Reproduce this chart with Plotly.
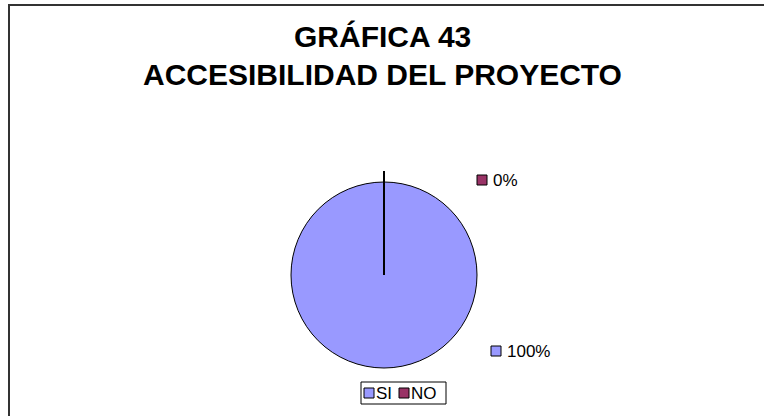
import plotly.graph_objects as go

W, H = 764, 416

# Chart data
categories = ["SI", "NO"]
percentages = [100, 0]
slice_colors = ["#9999FF", "#993366"]

title_lines = ["GRÁFICA 43", "ACCESIBILIDAD DEL PROYECTO"]

FONT = "Liberation Sans, Arial"


def px_x(v):
    return v / W


def px_y(v):
    return 1 - v / H


cx, cy, r = 384, 275, 93
KEY = 5  # half size of the colour key squares

fig = go.Figure()
fig.add_trace(go.Pie(
    labels=categories,
    values=percentages,
    marker=dict(colors=slice_colors, line=dict(color="black", width=1)),
    textinfo="none",
    sort=False,
    direction="clockwise",
    rotation=0,
    domain=dict(x=[px_x(cx - r), px_x(cx + r)], y=[px_y(cy + r), px_y(cy - r)]),
    hoverinfo="label+percent",
    showlegend=False,
))

annotations = []
shapes = []

# Title
for text, ypx in zip(title_lines, [36, 74]):
    annotations.append(dict(
        text=f"<b>{text}</b>", x=0.5, y=px_y(ypx), xref="paper", yref="paper",
        xanchor="center", yanchor="middle", showarrow=False,
        font=dict(family=FONT, size=30, color="black"),
    ))

# Data labels with colour keys
label_pos = {"NO": (482, 180), "SI": (496, 351)}
for cat, val, col in zip(categories, percentages, slice_colors):
    lx, ly = label_pos[cat]
    shapes.append(dict(
        type="rect", xref="paper", yref="paper",
        x0=px_x(lx - KEY), x1=px_x(lx + KEY), y0=px_y(ly + KEY), y1=px_y(ly - KEY),
        fillcolor=col, line=dict(color="black", width=1),
    ))
    annotations.append(dict(
        text=f"{val}%", x=px_x(lx + 9), y=px_y(ly), xref="paper", yref="paper",
        xanchor="left", yanchor="middle", showarrow=False,
        font=dict(family=FONT, size=17, color="black"),
    ))

# Edge of the zero slice and its leader line
shapes.append(dict(
    type="line", xref="paper", yref="paper",
    x0=px_x(cx), x1=px_x(cx), y0=px_y(cy), y1=px_y(171),
    line=dict(color="black", width=2),
))

# Legend box with keys
leg_top, leg_bot = 382, 404
leg_mid = (leg_top + leg_bot) / 2
shapes.append(dict(
    type="rect", xref="paper", yref="paper",
    x0=px_x(361), x1=px_x(446), y0=px_y(leg_bot), y1=px_y(leg_top),
    line=dict(color="black", width=1), fillcolor="white",
))
key_x = {"SI": 369, "NO": 404}
for cat, col in zip(categories, slice_colors):
    kx = key_x[cat]
    shapes.append(dict(
        type="rect", xref="paper", yref="paper",
        x0=px_x(kx - KEY), x1=px_x(kx + KEY), y0=px_y(leg_mid + KEY), y1=px_y(leg_mid - KEY),
        fillcolor=col, line=dict(color="black", width=1),
    ))
    annotations.append(dict(
        text=cat, x=px_x(kx + 5), y=px_y(leg_mid), xref="paper", yref="paper",
        xanchor="left", yanchor="middle", showarrow=False,
        font=dict(family=FONT, size=17, color="black"),
    ))

# Chart area frame
shapes.append(dict(
    type="rect", xref="paper", yref="paper",
    x0=px_x(9), x1=1.05, y0=-0.05, y1=px_y(5),
    line=dict(color="#333333", width=2), fillcolor="rgba(0,0,0,0)",
))

fig.update_layout(
    width=W, height=H,
    margin=dict(l=0, r=0, t=0, b=0),
    paper_bgcolor="white", plot_bgcolor="white",
    annotations=annotations, shapes=shapes,
    showlegend=False,
)

fig.write_html("out.html")
